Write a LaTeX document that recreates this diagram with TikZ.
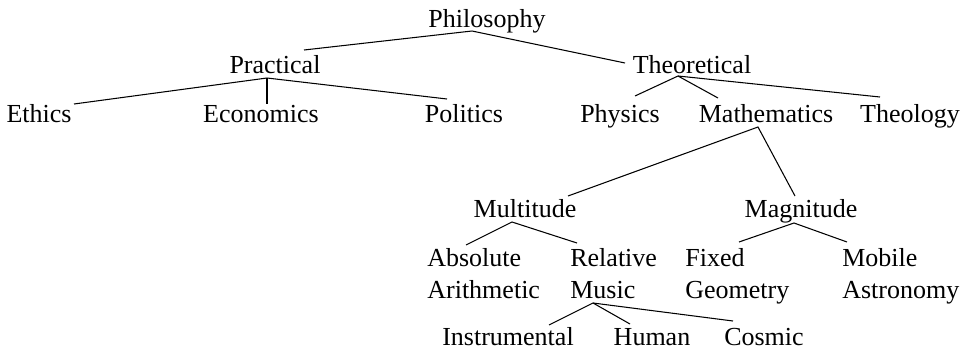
\documentclass[tikz,border=0pt]{standalone}
\usepackage{fontspec}
\setmainfont{Liberation Serif}
\usepackage{tikz}
\usetikzlibrary{calc}

\begin{document}
\begin{tikzpicture}[
    x=0.02cm, y=-0.02cm,
    term/.style={inner sep=0pt, anchor=base, font=\fontsize{14.8}{18.2}\selectfont},
    pair/.style={term, anchor=base west, align=left},
    branch/.style={draw, line width=0.6pt}
]
    \useasboundingbox (0,0) rectangle (971,352);

    % Nodes (pairs are placed by their second line)
    \node[term] (philosophy) at (487,27) {Philosophy};
    \node[term] (practical) at (275,73) {Practical};
    \node[term] (theoretical) at (692,73) {Theoretical};
    \node[term] (ethics) at (39,122) {Ethics};
    \node[term] (economics) at (261,122) {Economics};
    \node[term] (politics) at (464,122) {Politics};
    \node[term] (physics) at (620,122) {Physics};
    \node[term] (mathematics) at (766,122) {Mathematics};
    \node[term] (theology) at (910,122) {Theology};
    \node[term] (multitude) at (525,217) {Multitude};
    \node[term] (magnitude) at (801,217) {Magnitude};
    \node[pair] (absolute) at (427,298) {Absolute\\Arithmetic};
    \node[pair] (relative) at (570,298) {Relative\\Music};
    \node[pair] (fixed) at (685,298) {Fixed\\Geometry};
    \node[pair] (mobile) at (842,298) {Mobile\\Astronomy};
    \node[term] (instrumental) at (508,345) {Instrumental};
    \node[term] (human) at (652,345) {Human};
    \node[term] (cosmic) at (764,345) {Cosmic};

    % Branches
    \draw[branch] ([shift={(29,-23)}]practical.base) -- ([shift={(-15,4)}]philosophy.base)
        -- ([shift={(-67,-10)}]theoretical.base);
    \draw[branch] ([shift={(35,-18)}]ethics.base) -- ([shift={(-8,5)}]practical.base)
        -- ([shift={(-17,-23)}]politics.base);
    \draw[branch] ([shift={(-8,5)}]practical.base) -- ([shift={(6,-18)}]economics.base);
    \draw[branch] ([shift={(15,-26)}]physics.base) -- ([shift={(-14,3)}]theoretical.base)
        -- ([shift={(-48,-24)}]mathematics.base);
    \draw[branch] ([shift={(-14,3)}]theoretical.base) -- ([shift={(-30,-25)}]theology.base);
    \draw[branch] ([shift={(43,-21)}]multitude.base) -- ([shift={(-8,5)}]mathematics.base)
        -- ([shift={(-6,-21)}]magnitude.base);
    \draw[branch] ([shift={(39,-53)}]absolute.base west) -- ([shift={(-13,5)}]multitude.base)
        -- ([shift={(7,-55)}]relative.base west);
    \draw[branch] ([shift={(54,-56)}]fixed.base west) -- ([shift={(-7,6)}]magnitude.base)
        -- ([shift={(5,-56)}]mobile.base west);
    \draw[branch] ([shift={(41,-20)}]instrumental.base) -- ([shift={(23,5)}]relative.base west)
        -- ([shift={(-22,-21)}]human.base);
    \draw[branch] ([shift={(23,5)}]relative.base west) -- ([shift={(-31,-24)}]cosmic.base);
\end{tikzpicture}
\end{document}
